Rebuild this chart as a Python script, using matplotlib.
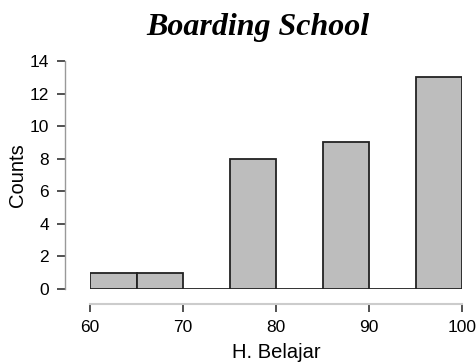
import matplotlib
matplotlib.use("Agg")
import matplotlib.pyplot as plt

bin_edges = [60, 65, 70, 75, 80, 85, 90, 95]
counts = [1, 1, 0, 8, 0, 9, 0, 13]
xticks = [60, 70, 80, 90, 100]
yticks = [0, 2, 4, 6, 8, 10, 12, 14]

plt.rcParams['font.family'] = ['Liberation Sans', 'DejaVu Sans']
fig = plt.figure(figsize=(4.76, 3.63), dpi=100)
ax = fig.add_axes([90/476, 1-289/363, (462-90)/476, (289-61)/363])

ax.bar(bin_edges, counts, width=5, align='edge', color='#bdbdbd',
       edgecolor='#222222', linewidth=1.3)

ax.set_xlim(60, 100)
ax.set_ylim(0, 14)
ax.set_xticks(xticks)
ax.set_yticks(yticks)
for s in ['top', 'right']:
    ax.spines[s].set_visible(False)
ax.spines['left'].set_position(('outward', 18))
ax.spines['bottom'].set_position(('outward', 11))
ax.spines['left'].set_bounds(0, 14)
ax.spines['bottom'].set_bounds(60, 100)
ax.spines['left'].set_color('#999999')
ax.spines['bottom'].set_color('#cccccc')
ax.spines['left'].set_linewidth(1.0)
ax.spines['bottom'].set_linewidth(1.5)
ax.tick_params(axis='both', colors='#333333', labelcolor='black', labelsize=12.5,
               length=6, width=1.2)
ax.tick_params(axis='x', pad=5)
ax.tick_params(axis='y', pad=5.5)
ax.set_xlabel('H. Belajar', fontsize=14.5)
ax.set_ylabel('Counts', fontsize=14.5)
ax.xaxis.label.set_va('center')
ax.yaxis.label.set_va('center')
ax.xaxis.set_label_coords(0.5, -(353-289)/228)
ax.yaxis.set_label_coords((17-90)/372, 0.5)

fig.text(258/476, 1-27/363, 'Boarding School', ha='center', va='center',
         family=['Liberation Serif'], fontweight='bold', fontstyle='italic', fontsize=23)

fig.savefig('out.png', dpi=100)
